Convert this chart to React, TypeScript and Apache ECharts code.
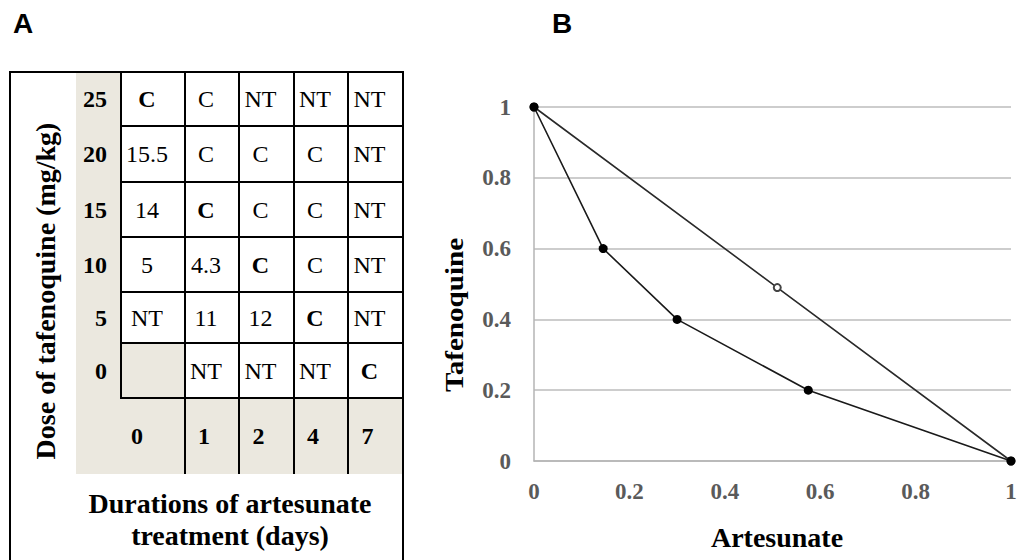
import React, { useEffect, useRef } from "react";
import * as echarts from "echarts";

// ---------- data ----------
const doses = ["25", "20", "15", "10", "5", "0"];
const durations = ["0", "1", "2", "4", "7"];
const cellValues = [
  ["C", "C", "NT", "NT", "NT"],
  ["15.5", "C", "C", "C", "NT"],
  ["14", "C", "C", "C", "NT"],
  ["5", "4.3", "C", "C", "NT"],
  ["NT", "11", "12", "C", "NT"],
  ["", "NT", "NT", "NT", "C"],
];
// [row, col] of bold entries
const boldCells = [
  [0, 0],
  [2, 1],
  [3, 2],
  [4, 3],
  [5, 4],
];

const artesunateCurve = [0, 0.145, 0.3, 0.575, 1];
const tafenoquineCurve = [1, 0.6, 0.4, 0.2, 0];
const artesunateLine = [0, 0.51, 1];
const tafenoquineLine = [1, 0.49, 0];

const tableYTitle = "Dose of tafenoquine (mg/kg)";
const tableXTitle = ["Durations of artesunate", "treatment (days)"];
const chartXTitle = "Artesunate";
const chartYTitle = "Tafenoquine";

// ---------- layout ----------
const COL_W = [45, 64, 54, 55, 54, 55];
const ROW_H = [54, 56, 55, 55, 51, 55, 76];
const colEdges = COL_W.reduce((a: number[], w) => [...a, a[a.length - 1] + w], [0]);
const rowEdges = ROW_H.reduce((a: number[], h) => [...a, a[a.length - 1] + h], [0]);
const BEIGE = "#ebe8df";
const SERIF = '"Liberation Serif", "Times New Roman", serif';
const SANS = '"Liberation Sans", Arial, sans-serif';

type Item = { kind: string; col: number; row: number; text: string; bold: boolean };
const items: Item[] = [];
doses.forEach((d, r) => items.push({ kind: "dose", col: 0, row: r, text: d, bold: true }));
items.push({ kind: "corner", col: 0, row: doses.length, text: "", bold: false });
cellValues.forEach((vals, r) =>
  vals.forEach((v, c) =>
    items.push({
      kind: "cell",
      col: c + 1,
      row: r,
      text: v,
      bold: boldCells.some(([br, bc]) => br === r && bc === c),
    })
  )
);
durations.forEach((d, c) =>
  items.push({ kind: "duration", col: c + 1, row: doses.length, text: d, bold: true })
);

function txt(x: number, y: number, text: string, font: string, align = "center", extra: any = {}) {
  return {
    type: "text",
    x,
    y,
    ...extra,
    style: {
      text,
      font,
      fill: extra.fill || "#000",
      textAlign: align,
      textVerticalAlign: "middle",
      align,
      verticalAlign: "middle",
    },
  };
}

export default function App() {
  const ref = useRef<HTMLDivElement>(null);
  useEffect(() => {
    if (!ref.current) return;
    const chart = echarts.init(ref.current, undefined, { renderer: "svg" });
    const tableW = colEdges[colEdges.length - 1];
    const tableH = rowEdges[rowEdges.length - 1];
    const labelStyle = {
      color: "#5a5a5a",
      fontFamily: SERIF,
      fontWeight: "bold" as const,
      fontSize: 23,
    };
    chart.setOption({
      animation: false,
      backgroundColor: "#fff",
      grid: [
        { left: 534, top: 107, width: 477, height: 354, outerBoundsMode: "none" },
        { left: 76, top: 72, width: tableW, height: tableH, outerBoundsMode: "none" },
      ],
      xAxis: [
        {
          type: "value",
          gridIndex: 0,
          min: 0,
          max: 1,
          interval: 0.2,
          axisLine: { show: true, lineStyle: { color: "#b4b4b4", width: 1.5 } },
          axisTick: { show: false },
          splitLine: { show: false },
          axisLabel: { ...labelStyle, margin: 19 },
        },
        { type: "value", gridIndex: 1, min: 0, max: tableW, show: false },
      ],
      yAxis: [
        {
          type: "value",
          gridIndex: 0,
          min: 0,
          max: 1,
          interval: 0.2,
          axisLine: { show: true, lineStyle: { color: "#b4b4b4", width: 1.5 } },
          axisTick: { show: false },
          splitLine: { show: true, lineStyle: { color: "#bdbdbd", width: 1.5 } },
          axisLabel: { ...labelStyle, margin: 23 },
        },
        { type: "value", gridIndex: 1, min: 0, max: tableH, inverse: true, show: false },
      ],
      series: [
        {
          type: "line",
          xAxisIndex: 0,
          yAxisIndex: 0,
          data: artesunateLine.map((x, i) => [x, tafenoquineLine[i]]),
          symbol: "emptyCircle",
          symbolSize: 7,
          lineStyle: { color: "#2a2a2a", width: 1.6 },
          itemStyle: { color: "#444", borderWidth: 1.5 },
          silent: true,
        },
        {
          type: "line",
          xAxisIndex: 0,
          yAxisIndex: 0,
          data: artesunateCurve.map((x, i) => [x, tafenoquineCurve[i]]),
          symbol: "circle",
          symbolSize: 9,
          lineStyle: { color: "#1a1a1a", width: 1.6 },
          itemStyle: { color: "#000" },
          silent: true,
        },
        {
          type: "custom",
          xAxisIndex: 1,
          yAxisIndex: 1,
          silent: true,
          clip: false,
          data: items.map((it) => [it.col, it.row]),
          renderItem: (params: any, api: any) => {
            const it = items[params.dataIndex];
            const p0 = api.coord([colEdges[it.col], rowEdges[it.row]]);
            const p1 = api.coord([colEdges[it.col + 1], rowEdges[it.row + 1]]);
            const x = p0[0];
            const y = p0[1];
            const w = p1[0] - p0[0];
            const h = p1[1] - p0[1];
            const beige = it.kind !== "cell" || it.text === "";
            const children: any[] = [
              { type: "rect", shape: { x, y, width: w, height: h }, style: { fill: beige ? BEIGE : "#fff" }, z2: 0 },
            ];
            const line = (x1: number, y1: number, x2: number, y2: number) => ({
              type: "line",
              shape: { x1, y1, x2, y2 },
              style: { stroke: "#000", lineWidth: 2 },
              z2: 10,
            });
            if (it.kind === "cell") {
              children.push({
                type: "rect",
                shape: { x, y, width: w, height: h },
                style: { fill: "none", stroke: "#000", lineWidth: 2 },
                z2: 10,
              });
            }
            if (it.kind === "duration") {
              children.push(line(x + w, y, x + w, y + h));
              if (it.col >= 2) children.push(line(x, y, x, y + h));
            }
            if (it.text) {
              const font = `${it.bold ? "bold " : ""}24px ${SERIF}`;
              let tx = x + w / 2;
              let align = "center";
              if (it.kind === "dose") {
                tx = x + w - 14;
                align = "right";
              } else if (it.kind === "cell") {
                tx = x + w / 2 - 6;
              } else if (it.kind === "duration") {
                tx = x + w / 2 - (it.col === 1 ? 16 : 8);
              }
              const t: any = txt(tx, y + h / 2, it.text, font, align);
              t.z2 = 20;
              children.push(t);
            }
            return { type: "group", children };
          },
        },
      ],
      graphic: [
        {
          type: "rect",
          shape: { x: 10, y: 72, width: 393, height: 492 },
          style: { fill: "none", stroke: "#000", lineWidth: 2 },
          z: 100,
          silent: true,
        },
        txt(13, 23, "A", `bold 28px ${SANS}`, "left"),
        txt(552, 23, "B", `bold 28px ${SANS}`, "left"),
        txt(45, 291, tableYTitle, `bold 28px ${SERIF}`, "center", { rotation: Math.PI / 2 }),
        txt(230, 503, tableXTitle[0], `bold 28px ${SERIF}`),
        txt(230, 535, tableXTitle[1], `bold 28px ${SERIF}`),
        txt(777, 537, chartXTitle, `bold 28px ${SERIF}`),
        txt(454, 315, chartYTitle, `bold 26px ${SERIF}`, "center", { rotation: Math.PI / 2, scaleX: 1.12 }),
      ],
    });
    return () => chart.dispose();
  }, []);
  return (
    <div
      ref={ref}
      style={{ position: "absolute", left: 0, top: 0, width: 1018, height: 560, background: "#fff" }}
    />
  );
}
